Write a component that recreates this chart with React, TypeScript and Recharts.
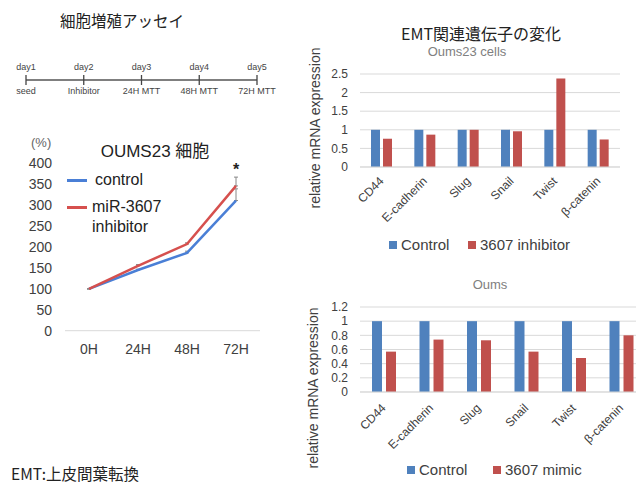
import React from 'react';
import { LineChart, Line, XAxis, YAxis, CartesianGrid, ErrorBar, ReferenceDot, BarChart, Bar } from 'recharts';

// ---- timeline ----
const timelineDays = ['day1', 'day2', 'day3', 'day4', 'day5'];
const timelineEvents = ['seed', 'Inhibitor', '24H  MTT', '48H  MTT', '72H MTT'];

// ---- growth assay ----
const hours = ['0H', '24H', '48H', '72H'];
const controlGrowth = [100, 145, 186, 311];
const inhibitorGrowth = [100, 155, 207, 346];
const controlErr = [[0, 0], [0, 2], [0, 4], [0, 28]];
const inhibitorErr = [[0, 0], [0, 3], [0, 3], [0, 21]];
const growthTicks = [0, 50, 100, 150, 200, 250, 300, 350, 400];

// ---- EMT genes ----
const genes = ['CD44', 'E-cadherin', 'Slug', 'Snail', 'Twist', 'β-catenin'];
const inhControl = [1, 1, 1, 1, 1, 1];
const inhTreated = [0.76, 0.87, 1.0, 0.96, 2.38, 0.74];
const inhTicks = [0, 0.5, 1, 1.5, 2, 2.5];
const mimicControl = [1, 1, 1, 1, 1, 1];
const mimicTreated = [0.57, 0.74, 0.73, 0.57, 0.48, 0.8];
const mimicTicks = [0, 0.2, 0.4, 0.6, 0.8, 1, 1.2];

const BLUE = '#4F81BD';
const RED = '#C0504D';
const LINE_BLUE = '#4A7FD6';
const LINE_RED = '#D6504E';
const TEXT = '#404040';
const SANS = '"Liberation Sans", Arial, "Noto Sans CJK JP", sans-serif';
const CJK = '"Noto Sans CJK JP", "Liberation Sans", sans-serif';

const timelineData = timelineDays.map((d, i) => ({ day: d, event: timelineEvents[i] }));
const growthData = hours.map((h, i) => ({
  hour: h,
  control: controlGrowth[i],
  inhibitor: inhibitorGrowth[i],
  controlErr: controlErr[i],
  inhibitorErr: inhibitorErr[i],
}));
const inhData = genes.map((g, i) => ({ gene: g, control: inhControl[i], treated: inhTreated[i] }));
const mimicData = genes.map((g, i) => ({ gene: g, control: mimicControl[i], treated: mimicTreated[i] }));

const fmt = (v: number) => String(v);

const TimelineTick = (props: any) => {
  const { x, y, payload, index } = props;
  return (
    <g>
      <line x1={x} x2={x} y1={y - 5} y2={y + 5} stroke="#444" strokeWidth={1.3} />
      <text x={x} y={y - 10} textAnchor="middle" fontSize={9} fill="#444" fontFamily={SANS}>
        {payload.value}
      </text>
      <text x={x} y={y + 14} textAnchor="middle" fontSize={9} fill="#444" fontFamily={SANS}>
        {timelineEvents[index]}
      </text>
    </g>
  );
};

const GeneTick = (props: any) => {
  const { x, y, payload } = props;
  return (
    <g transform={`translate(${x},${y})`}>
      <text x={0} y={0} dy={4} textAnchor="end" fill={TEXT} fontSize={12} fontFamily={SANS} transform="rotate(-45)">
        {payload.value}
      </text>
    </g>
  );
};

const abs = (left: number, top: number, extra: any = {}) => ({ position: 'absolute' as const, left, top, ...extra });

const RotLabel = ({ cx, cy, text }: { cx: number; cy: number; text: string }) => (
  <div
    style={{
      position: 'absolute',
      left: cx - 100,
      top: cy - 10,
      width: 200,
      height: 20,
      lineHeight: '20px',
      textAlign: 'center',
      transform: 'rotate(-90deg)',
      fontSize: 14,
      color: TEXT,
      fontFamily: SANS,
      whiteSpace: 'nowrap',
    }}
  >
    {text}
  </div>
);

const LegendItem = ({ left, top, color, text }: { left: number; top: number; color: string; text: string }) => (
  <>
    <div style={abs(left, top, { width: 8, height: 8, background: color })} />
    <div style={abs(left + 12, top - 6, { fontSize: 15, lineHeight: '20px', color: TEXT, fontFamily: SANS, whiteSpace: 'nowrap' })}>{text}</div>
  </>
);

export default function App() {
  return (
    <div
      style={{
        position: 'absolute',
        left: 0,
        top: 0,
        width: 636,
        height: 486,
        overflow: 'hidden',
        background: '#fff',
        fontFamily: SANS,
      }}
    >
      {/* Timeline */}
      <div style={abs(60, 8, { fontSize: 15.5, lineHeight: '24px', color: '#222', fontFamily: CJK })}>細胞増殖アッセイ</div>
      <div style={abs(0, 0)}>
        <LineChart width={300} height={100} data={timelineData} margin={{ top: 5, right: 43, left: 26, bottom: 0 }}>
          <XAxis
            dataKey="day"
            scale="point"
            height={20}
            tickSize={0}
            tickMargin={0}
            tickLine={false}
            axisLine={{ stroke: '#555', strokeWidth: 1.3 }}
            tick={<TimelineTick />}
            interval={0}
          />
        </LineChart>
      </div>

      {/* Growth chart */}
      <div style={abs(31, 133, { fontSize: 13, lineHeight: '20px', color: '#666', fontFamily: SANS })}>(%)</div>
      <div style={abs(55, 140, { width: 200, textAlign: 'center', fontSize: 17, lineHeight: '24px', color: '#222', fontFamily: SANS })}>
        OUMS23 細胞
      </div>
      <div style={abs(0, 140)}>
        <LineChart width={280} height={230} data={growthData} margin={{ top: 23.3, right: 20, left: 0, bottom: 9.3 }}>
          <XAxis
            dataKey="hour"
            scale="point"
            padding={{ left: 24, right: 24 }}
            height={30}
            tickSize={0}
            tickMargin={13}
            tickLine={false}
            axisLine={{ stroke: '#D9D9D9' }}
            tick={{ fill: TEXT, fontSize: 14, fontFamily: SANS }}
          />
          <YAxis
            domain={[0, 400]}
            ticks={growthTicks}
            interval={0}
            width={65}
            tickSize={0}
            tickMargin={13}
            axisLine={false}
            tickLine={false}
            tick={{ fill: TEXT, fontSize: 14, fontFamily: SANS }}
          />
          <Line dataKey="control" stroke={LINE_BLUE} strokeWidth={2.5} dot={false} isAnimationActive={false}>
            <ErrorBar dataKey="controlErr" width={2} stroke="#888" strokeWidth={1} direction="y" />
          </Line>
          <Line dataKey="inhibitor" stroke={LINE_RED} strokeWidth={2.5} dot={false} isAnimationActive={false}>
            <ErrorBar dataKey="inhibitorErr" width={2} stroke="#888" strokeWidth={1} direction="y" />
          </Line>
          <ReferenceDot
            x="72H"
            y={385}
            r={0}
            fill="none"
            stroke="none"
            label={{ value: '*', position: 'center', fontSize: 16, fill: '#222', fontWeight: 'bold' }}
          />
        </LineChart>
      </div>
      {/* growth legend */}
      <div style={abs(67, 178.5, { width: 20, height: 3, background: LINE_BLUE })} />
      <div style={abs(95, 170, { fontSize: 16, lineHeight: '20px', color: '#222' })}>control</div>
      <div style={abs(67, 205.5, { width: 20, height: 3, background: LINE_RED })} />
      <div style={abs(92, 197, { fontSize: 16, lineHeight: '20px', color: '#222' })}>miR-3607</div>
      <div style={abs(92, 217, { fontSize: 16, lineHeight: '20px', color: '#222' })}>inhibitor</div>

      {/* EMT title */}
      <div style={abs(381, 21, { width: 200, textAlign: 'center', fontSize: 16, lineHeight: '24px', color: '#222', fontFamily: CJK })}>
        EMT関連遺伝子の変化
      </div>
      <div style={abs(417, 42, { width: 100, textAlign: 'center', fontSize: 13, lineHeight: '20px', color: '#808080' })}>Oums23 cells</div>
      <RotLabel cx={315} cy={128} text="relative mRNA expression" />
      <div style={abs(300, 60)}>
        <BarChart width={336} height={175} data={inhData} margin={{ top: 14, right: 16, left: 0, bottom: 0 }} barSize={9} barGap={3}>
          <CartesianGrid vertical={false} stroke="#D9D9D9" />
          <XAxis
            dataKey="gene"
            height={68}
            tickSize={0}
            tickMargin={12}
            tickLine={false}
            axisLine={{ stroke: '#D9D9D9' }}
            interval={0}
            tick={<GeneTick />}
          />
          <YAxis
            domain={[0, 2.5]}
            ticks={inhTicks}
            interval={0}
            tickFormatter={fmt}
            width={60}
            tickSize={0}
            tickMargin={12}
            axisLine={false}
            tickLine={false}
            tick={{ fill: TEXT, fontSize: 12, fontFamily: SANS }}
          />
          <Bar dataKey="control" fill={BLUE} isAnimationActive={false} />
          <Bar dataKey="treated" fill={RED} isAnimationActive={false} />
        </BarChart>
      </div>
      <LegendItem left={389} top={241} color={BLUE} text="Control" />
      <LegendItem left={468} top={241} color={RED} text="3607 inhibitor" />

      {/* Oums mimic */}
      <div style={abs(440, 275, { width: 100, textAlign: 'center', fontSize: 13, lineHeight: '20px', color: '#808080' })}>Oums</div>
      <RotLabel cx={313} cy={388} text="relative mRNA expression" />
      <div style={abs(300, 290)}>
        <BarChart width={345} height={175} data={mimicData} margin={{ top: 17, right: 0, left: 0, bottom: 0 }} barSize={10} barGap={4}>
          <CartesianGrid vertical={false} stroke="#D9D9D9" />
          <XAxis
            dataKey="gene"
            height={73}
            tickSize={0}
            tickMargin={14}
            tickLine={false}
            axisLine={{ stroke: '#D9D9D9' }}
            interval={0}
            tick={<GeneTick />}
          />
          <YAxis
            domain={[0, 1.2]}
            ticks={mimicTicks}
            interval={0}
            tickFormatter={fmt}
            width={60}
            tickSize={0}
            tickMargin={12}
            axisLine={false}
            tickLine={false}
            tick={{ fill: TEXT, fontSize: 12, fontFamily: SANS }}
          />
          <Bar dataKey="control" fill={BLUE} isAnimationActive={false} />
          <Bar dataKey="treated" fill={RED} isAnimationActive={false} />
        </BarChart>
      </div>
      <LegendItem left={407} top={466} color={BLUE} text="Control" />
      <LegendItem left={493} top={466} color={RED} text="3607 mimic" />

      <div style={abs(11, 462, { fontSize: 15.5, lineHeight: '22px', color: '#222', fontFamily: CJK })}>EMT:上皮間葉転換</div>
    </div>
  );
}
